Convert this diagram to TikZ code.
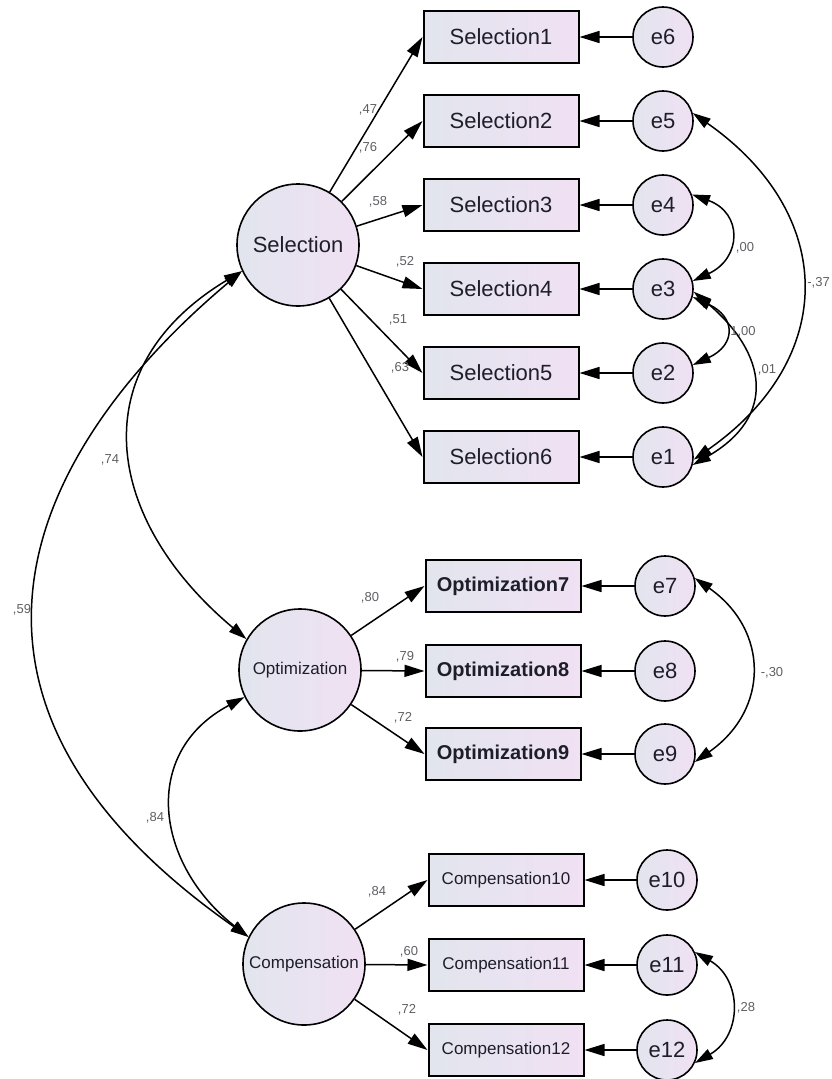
\documentclass[tikz,border=0pt]{standalone}
\usepackage{fontspec}
\setmainfont{Liberation Sans}
\usetikzlibrary{arrows.meta}
\definecolor{fillL}{RGB}{226,229,238}
\definecolor{fillR}{RGB}{240,225,243}
\definecolor{txt}{RGB}{30,30,40}
\definecolor{estgray}{RGB}{95,95,100}

\begin{document}
\begin{tikzpicture}[x=1pt,y=1pt,
  box/.style={draw, line width=2pt, left color=fillL, right color=fillR,
    minimum width=155pt, minimum height=52pt, inner sep=0pt, text=txt,
    font=\fontsize{22}{24}\selectfont},
  latent/.style={circle, draw, line width=1.6pt, left color=fillL, right color=fillR,
    minimum size=122pt, inner sep=0pt, text=txt},
  err/.style={circle, draw, line width=1.6pt, left color=fillL, right color=fillR,
    minimum size=60pt, inner sep=0pt, text=txt, font=\fontsize{22}{24}\selectfont},
  load/.style={line width=1.5pt, -{Triangle[length=20pt,width=12pt]}},
  cov/.style={line width=1.5pt, {Triangle[length=18pt,width=11pt]}-{Triangle[length=18pt,width=11pt]}},
  estim/.style={text=estgray, font=\fontsize{13}{14}\selectfont, inner sep=1pt}]

\useasboundingbox (0,0) rectangle (831,-1079);

% Draw the latent factors
\node[latent, font=\fontsize{22}{24}\selectfont] (sel) at (298,-245) {Selection};
\node[latent, font=\fontsize{17}{18}\selectfont] (opt) at (300,-670) {Optimization};
\node[latent, font=\fontsize{17}{18}\selectfont] (comp) at (304,-964) {Compensation};

% Draw the Selection items with their errors
\foreach \i/\k/\y in {1/6/37, 2/5/121, 3/4/205, 4/3/289, 5/2/373, 6/1/457} {
  \node[box] (s\i) at (501,-\y) {Selection\i};
  \node[err] (e\k) at (663,-\y) {e\k};
  \draw[load] (e\k) -- (s\i);
  \draw[load] (sel) -- (s\i.west);
}

% Draw the Optimization items with their errors
\foreach \i/\y in {7/586, 8/671, 9/754} {
  \node[box, font=\bfseries\fontsize{20}{22}\selectfont] (o\i) at (503,-\y) {Optimization\i};
  \node[err] (e\i) at (665,-\y) {e\i};
  \draw[load] (e\i) -- (o\i);
  \draw[load] (opt) -- (o\i.west);
}

% Draw the Compensation items with their errors
\foreach \i/\y in {10/880, 11/965, 12/1050} {
  \node[box, font=\fontsize{17}{18}\selectfont] (c\i) at (506,-\y) {Compensation\i};
  \node[err] (e\i) at (667,-\y) {e\i};
  \draw[load] (e\i) -- (c\i);
  \draw[load] (comp) -- (c\i.west);
}

% Draw the covariances between the factors
\draw[cov] (sel.205) to[out=211,in=140,looseness=1.3] (opt.150);
\draw[cov] (sel.205) to[out=220,in=145,out looseness=1.0,in looseness=1.65] (comp.154);
\draw[cov] (opt.206) to[out=208,in=142,looseness=1.26] (comp.154);

% Draw the covariances between the errors
\draw[cov] (e4.20) to[out=-20,in=25,looseness=1.6] (e3.15);
\draw[cov] (e3.-15) to[out=-25,in=25,looseness=1.8] (e2.15);
\draw[cov] (e3.-5) to[out=-40,in=30,looseness=1.43] (e1.-15);
\draw[cov] (e5.15) to[out=-35,in=35,looseness=1.3] (e1.-5);
\draw[cov] (e7.15) to[out=-35,in=35,looseness=1.27] (e9.-15);
\draw[cov] (e11.25) to[out=-30,in=30,looseness=1.27] (e12.-25);

% Label the loadings
\node[estim] (w1) at (368,-110) {,47};
\node[estim] (w2) at (368,-148) {,76};
\node[estim] (w3) at (378,-202) {,58};
\node[estim] (w4) at (405,-262) {,52};
\node[estim] (w5) at (398,-320) {,51};
\node[estim] (w6) at (400,-368) {,63};
\node[estim] (w7) at (370,-598) {,80};
\node[estim] (w8) at (405,-657) {,79};
\node[estim] (w9) at (403,-718) {,72};
\node[estim] (w10) at (377,-892) {,84};
\node[estim] (w11) at (409,-952) {,60};
\node[estim] (w12) at (407,-1010) {,72};

% Label the covariances
\node[estim] (r1) at (110,-460) {,74};
\node[estim] (r2) at (22,-610) {,59};
\node[estim] (r3) at (155,-818) {,84};
\node[estim] (r4) at (745,-248) {,00};
\node[estim] (r5) at (743,-332) {1,00};
\node[estim] (r6) at (767,-370) {,01};
\node[estim, anchor=east] (r7) at (831,-283) {-,37};
\node[estim] (r8) at (772,-673) {-,30};
\node[estim] (r9) at (746,-1008) {,28};

\end{tikzpicture}
\end{document}
